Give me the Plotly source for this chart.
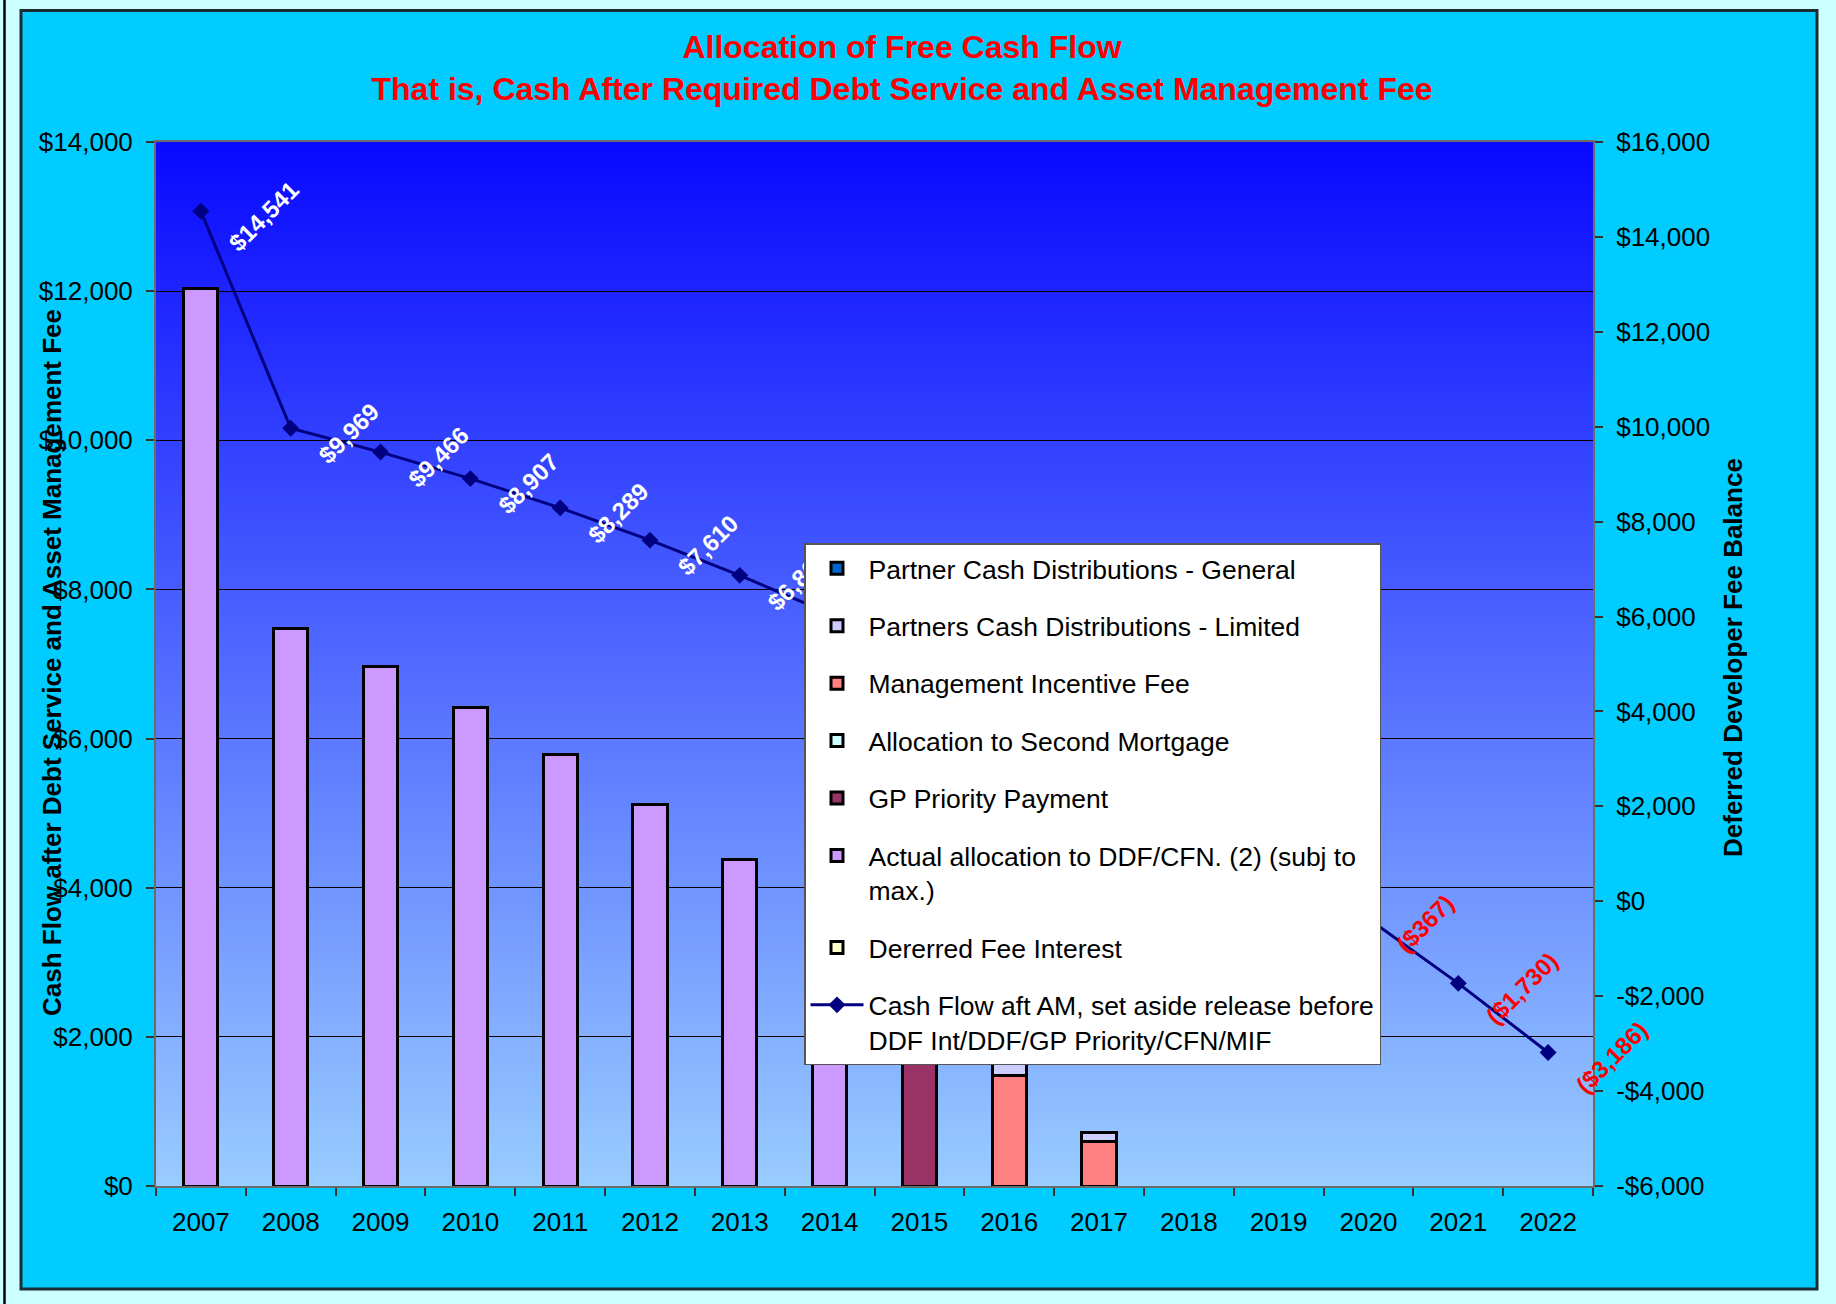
import math
import plotly.graph_objects as go

# ---------------------------------------------------------------- data
years = ["2007", "2008", "2009", "2010", "2011", "2012", "2013", "2014",
         "2015", "2016", "2017", "2018", "2019", "2020", "2021", "2022"]

gp_distributions = [0, 0, 0, 0, 0, 0, 0, 0, 0, 0, 0, 0, 0, 0, 0, 0]
lp_distributions = [0, 0, 0, 0, 0, 0, 0, 0, 0, 255, 115, 0, 0, 0, 0, 0]
mgmt_incentive_fee = [0, 0, 0, 0, 0, 0, 0, 0, 0, 1480, 600, 0, 0, 0, 0, 0]
second_mortgage = [0, 0, 0, 0, 0, 0, 0, 0, 0, 0, 0, 0, 0, 0, 0, 0]
gp_priority = [0, 0, 0, 0, 0, 0, 0, 0, 2680, 0, 0, 0, 0, 0, 0, 0]
ddf_allocation = [12030, 7480, 6970, 6420, 5790, 5120, 4380, 3580,
                  0, 0, 0, 0, 0, 0, 0, 0]
deferred_fee_interest = [0, 0, 0, 0, 0, 0, 0, 0, 0, 0, 0, 0, 0, 0, 0, 0]

ddf_balance = [14541, 9969, 9466, 8907, 8289, 7610, 6868, 6060,
               5183, 4233, 3207, 2101, 911, -367, -1730, -3186]

left_ticks = [0, 2000, 4000, 6000, 8000, 10000, 12000, 14000]
right_ticks = [-6000, -4000, -2000, 0, 2000, 4000, 6000, 8000,
               10000, 12000, 14000, 16000]

# ---------------------------------------------------------------- page geometry
W, H = 1836, 1304
PL, PR, PT, PB = 156, 1593, 142, 1186      # plotting rectangle
PAPER_R = 1700                              # paper extends past it for labels
FONT = "Liberation Sans, Arial, sans-serif"

Y2_MIN, Y2_MAX = -6000, 16000
CAT_PX = (PR - PL) / len(years)
Y2_PER_PX = (Y2_MAX - Y2_MIN) / (PB - PT)
X_DOMAIN_END = (PR - PL) / (PAPER_R - PL)


def px_x(px):
    return (px - PL) / (PAPER_R - PL)


def px_y(py):
    return (PB - py) / (PB - PT)


def money(v):
    return f"${v:,.0f}" if v >= 0 else f"(${-v:,.0f})"


def money_tick(v):
    return f"${v:,.0f}" if v >= 0 else f"-${-v:,.0f}"


# ---------------------------------------------------------------- traces
fig = go.Figure()

# stacked from the bottom up
bar_series = [
    ("Dererred Fee Interest", deferred_fee_interest, "#FFFFCC", 7),
    ("Actual allocation to DDF/CFN. (2) (subj to<br>max.)", ddf_allocation, "#CC99FF", 6),
    ("GP Priority Payment", gp_priority, "#993366", 5),
    ("Allocation to Second Mortgage", second_mortgage, "#CCFFFF", 4),
    ("Management Incentive Fee", mgmt_incentive_fee, "#FF8080", 3),
    ("Partners Cash Distributions - Limited", lp_distributions, "#CCCCFF", 2),
    ("Partner Cash Distributions - General", gp_distributions, "#0066CC", 1),
]
for name, vals, color, rank in bar_series:
    fig.add_trace(go.Bar(
        x=years, y=[v if v else None for v in vals], name=name,
        marker=dict(color=color, line=dict(color="black", width=3)),
        legendgroup=name, legendrank=rank, hoverinfo="skip",
    ))

line_name = "Cash Flow aft AM, set aside release before<br>DDF Int/DDF/GP Priority/CFN/MIF"
fig.add_trace(go.Scatter(
    x=years, y=ddf_balance, yaxis="y2", name=line_name,
    mode="lines+markers",
    line=dict(color="#000080", width=3),
    marker=dict(symbol="diamond", size=13, color="#000080"),
    legendgroup="balance", legendrank=8, cliponaxis=False,
))

# rotated value labels, placed to the right of each balance point
# (own subplot so they sit above the line; x2 runs on category index units)
LABEL_SIZE = 24
CHAR_EM = {",": 0.278, "(": 0.333, ")": 0.333}
labels = [money(v) for v in ddf_balance]
label_colors = ["white" if v >= 0 else "red" for v in ddf_balance]
band_w = 0.3
band_h = 40 * Y2_PER_PX
label_offsets, label_bases = [], []
for v, t in zip(ddf_balance, labels):
    text_px = sum(CHAR_EM.get(c, 0.556) for c in t) * LABEL_SIZE
    dx = 25 + (text_px + 20) / (2 * math.sqrt(2))
    label_offsets.append(dx / CAT_PX - band_w / 2)
    label_bases.append(v - 5 * Y2_PER_PX - band_h / 2)

fig.add_trace(go.Bar(
    x=list(range(len(years))), y=[band_h] * len(years), base=label_bases,
    xaxis="x2", yaxis="y3",
    width=[band_w] * len(years), offset=label_offsets,
    text=labels, textposition="inside", insidetextanchor="middle",
    textangle=-45, constraintext="none",
    textfont=dict(family=FONT, size=LABEL_SIZE, weight="bold", color=label_colors),
    insidetextfont=dict(family=FONT, size=LABEL_SIZE, weight="bold", color=label_colors),
    marker=dict(color="rgba(0,0,0,0)", line=dict(width=0)),
    showlegend=False, hoverinfo="skip", cliponaxis=False,
))

# ---------------------------------------------------------------- backdrop
shapes = [
    dict(type="rect", xref="paper", yref="paper", layer="below",
         x0=px_x(21), x1=px_x(1817), y0=px_y(1289), y1=px_y(10.5),
         fillcolor="#00CCFF", line=dict(color="#1c2c34", width=3)),
    dict(type="line", xref="paper", yref="paper", layer="below",
         x0=px_x(4.5), x1=px_x(4.5), y0=px_y(H), y1=px_y(0),
         line=dict(color="black", width=2.5)),
]
top_rgb = (8, 8, 255)
bottom_rgb = (153, 204, 255)
N = 220
for k in range(N):
    t = k / N
    c = tuple(round(b + (tp - b) * t) for b, tp in zip(bottom_rgb, top_rgb))
    shapes.append(dict(type="rect", xref="x domain", yref="y domain", layer="below",
                       x0=0, x1=1, y0=t, y1=1,
                       fillcolor=f"rgb{c}", line=dict(width=0)))

annotations = [
    dict(text="Cash Flow after Debt Service and Asset Management Fee",
         xref="paper", yref="paper", x=px_x(52), y=px_y(663),
         textangle=-90, showarrow=False, xanchor="center", yanchor="middle",
         font=dict(family=FONT, size=26, weight="bold", color="black")),
    dict(text="Deferred Developer Fee Balance",
         xref="paper", yref="paper", x=px_x(1733), y=px_y(658),
         textangle=-90, showarrow=False, xanchor="center", yanchor="middle",
         font=dict(family=FONT, size=26, weight="bold", color="black")),
]

axis_line = dict(showline=True, linecolor="#6b6b6b", linewidth=2,
                 ticks="outside", ticklen=8, tickwidth=2, tickcolor="#333333",
                 tickfont=dict(family=FONT, size=26, color="black"),
                 automargin=False)

fig.update_layout(
    width=W, height=H, autosize=False,
    margin=dict(l=PL, r=W - PAPER_R, t=PT, b=H - PB, pad=0),
    paper_bgcolor="#CCFFFF", plot_bgcolor="rgba(0,0,0,0)",
    barmode="stack", bargap=0.62,
    title=dict(
        text="Allocation of Free Cash Flow<br>That is, Cash After Required Debt Service and Asset Management Fee",
        xref="container", yref="container", x=902 / W, y=1 - 58 / H,
        xanchor="center", yanchor="middle",
        font=dict(family=FONT, size=32, weight="bold", color="#FF0000"),
    ),
    xaxis=dict(type="category", categoryorder="array", categoryarray=years,
               range=[-0.5, len(years) - 0.5], tickson="boundaries",
               domain=[0, X_DOMAIN_END], anchor="y",
               showgrid=False, mirror=True, ticklabelstandoff=12, **axis_line),
    yaxis=dict(range=[0, 14000], tickvals=left_ticks, anchor="x",
               ticktext=[money_tick(v) for v in left_ticks],
               showgrid=True, gridcolor="black", gridwidth=1, zeroline=False,
               ticklabelstandoff=8, **axis_line),
    yaxis2=dict(range=[Y2_MIN, Y2_MAX], overlaying="y", side="right", anchor="x",
                tickvals=right_ticks, ticktext=[money_tick(v) for v in right_ticks],
                showgrid=False, zeroline=False, ticklabelstandoff=8, **axis_line),
    xaxis2=dict(domain=[0, 1], anchor="y3", visible=False,
                range=[-0.5, -0.5 + (PAPER_R - PL) / CAT_PX]),
    yaxis3=dict(domain=[0, 1], anchor="x2", visible=False,
                range=[Y2_MIN, Y2_MAX]),
    legend=dict(x=px_x(804), y=px_y(543), xanchor="left", yanchor="top",
                bgcolor="white", bordercolor="#555555", borderwidth=1.5,
                font=dict(family=FONT, size=26.5, color="black"),
                traceorder="grouped", tracegroupgap=20, valign="top",
                itemwidth=53),
    shapes=shapes,
    annotations=annotations,
    showlegend=True,
)

fig.write_html("out.html")
